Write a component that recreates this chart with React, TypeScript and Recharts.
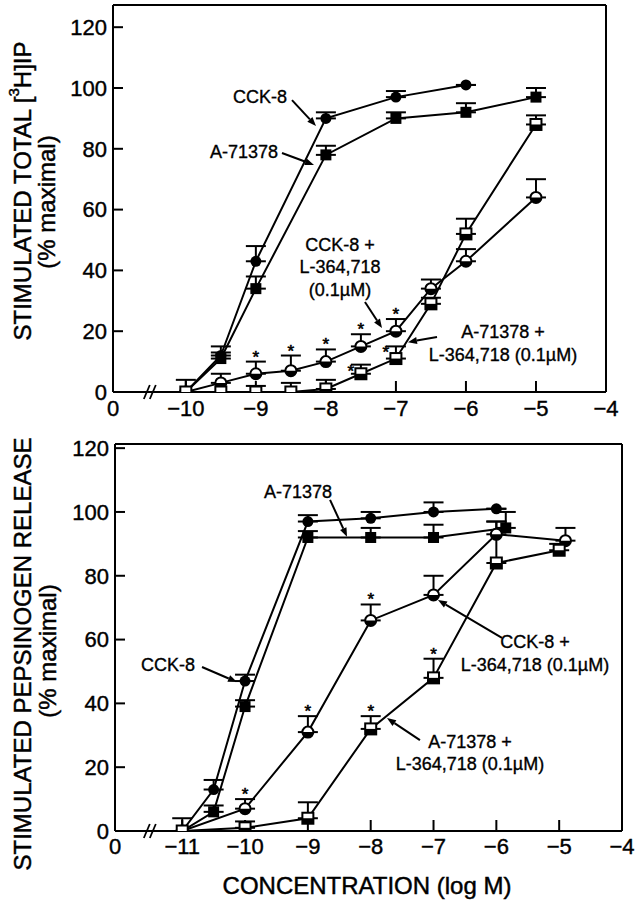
import React from "react";
import { LineChart, Line, XAxis, YAxis, ErrorBar } from "recharts";

const FONT = '"Liberation Sans", Arial, Helvetica, sans-serif';

// ---- top panel: stimulated total [3H]IP ----
const topCckX = [-10, -9.5, -9, -8, -7, -6];
const topCckY = [0, 12, 43, 90, 97, 101];
const topCckErr = [0, 3, 5, 2, 2, 0];

const topAX = [-10, -9.5, -9, -8, -7, -6, -5];
const topAY = [0, 11, 34, 78, 90, 92, 97];
const topAErr = [0, 2, 4, 3, 2, 3, 3];

const topCckLX = [-10, -9.5, -9, -8.5, -8, -7.5, -7, -6.5, -6, -5];
const topCckLY = [0, 3, 6, 7, 10, 15, 20, 34, 43, 64];
const topCckLErr = [4, 3, 4, 5, 4, 4, 4, 3, 4, 6];
const topCckLStar = [0, 0, 1, 1, 1, 1, 1, 0, 0, 0];

const topALX = [-10, -9.5, -9, -8.5, -8, -7.5, -7, -6.5, -6, -5];
const topALY = [0, 0, 0, 0, 1, 6, 11, 29, 52, 88];
const topALErr = [0, 0, 2, 3, 3, 3, 4, 2, 5, 3];
const topALStar = [0, 0, 0, 0, 0, 2, 2, 0, 0, 0];

// ---- bottom panel: stimulated pepsinogen release ----
const botCckX = [-11, -10.5, -10, -9, -8, -7, -6];
const botCckY = [0, 13, 47, 97, 98, 100, 101];
const botCckErr = [0, 3, 2, 2, 2, 3, 0];

const botAX = [-11, -10.5, -10, -9, -8, -7, -5.85];
const botAY = [0, 6, 39, 92, 92, 92, 95];
const botAErr = [0, 2, 2, 2, 3, 4, 5];

const botCckLX = [-11, -10, -9, -8, -7, -6, -4.9];
const botCckLY = [0, 7, 31, 66, 74, 93, 91];
const botCckLErr = [4, 3, 5, 5, 6, 4, 4];
const botCckLStar = [0, 1, 1, 1, 0, 0, 0];

const botALX = [-11, -10, -9, -8, -7, -6, -5];
const botALY = [0, 1, 4, 32, 48, 84, 88];
const botALErr = [0, 2, 5, 4, 6, 13, 2];
const botALStar = [0, 0, 0, 1, 1, 0, 0];

const yTicks = [0, 20, 40, 60, 80, 100, 120];
const topXTicks = [-10, -9, -8, -7, -6, -5, -4];
const botXTicks = [-11, -10, -9, -8, -7, -6, -5, -4];
const frameTicks = [-10, -9, -8, -7, -6, -5];

type Panel = {
  left: number; right: number; top: number; bottom: number;
  x0: number; x1: number; yMax: number;
  chartTop: number; chartHeight: number;
  topDomain: [number, number];
  tickMargin: number;
};

// plot areas in page pixels
const TOP: Panel = {
  left: 113, right: 606, top: 5, bottom: 392, x0: -11.04, x1: -4, yMax: 127.3,
  chartTop: 0, chartHeight: 430, topDomain: [-11.04, -4], tickMargin: 19,
};
const BOT: Panel = {
  left: 115, right: 622, top: 444, bottom: 831, x0: -12.07, x1: -4, yMax: 121.3,
  chartTop: 430, chartHeight: 470, topDomain: [-11.014, -3.771], tickMargin: 18,
};

const px = (p: Panel, x: number) => p.left + ((x - p.x0) * (p.right - p.left)) / (p.x1 - p.x0);
const py = (p: Panel, y: number) => p.bottom - (y * (p.bottom - p.top)) / p.yMax;

type Pt = { x: number; y: number; e: [number, number]; s: number };
function pts(xs: number[], ys: number[], es: number[], ss?: number[]): Pt[] {
  return xs.map((x, i) => ({ x, y: ys[i], e: [0, es[i]], s: ss ? ss[i] : 0 }));
}

type Kind = "circle" | "square" | "halfCircle" | "halfSquare";

function makeDot(kind: Kind, ppu: number) {
  return (props: any) => {
    const { cx, cy, payload, index } = props;
    if (cx == null || cy == null) return <g key={`n-${index}`} />;
    const r = 5.5;
    let shape: React.ReactNode;
    if (kind === "circle") {
      shape = <circle cx={cx} cy={cy} r={r} fill="#000" />;
    } else if (kind === "square") {
      shape = <rect x={cx - r} y={cy - r} width={2 * r} height={2 * r} fill="#000" />;
    } else if (kind === "halfCircle") {
      shape = (
        <g>
          <circle cx={cx} cy={cy} r={r} fill="#fff" stroke="#000" strokeWidth={2} />
          <path d={`M${cx - r},${cy} A${r},${r} 0 0 0 ${cx + r},${cy} Z`} fill="#000" />
        </g>
      );
    } else {
      shape = (
        <g>
          <rect x={cx - r} y={cy - r} width={2 * r} height={2 * r} fill="#fff" stroke="#000" strokeWidth={2} />
          <rect x={cx - r} y={cy} width={2 * r} height={r} fill="#000" />
        </g>
      );
    }
    const capY = cy - payload.e[1] * ppu;
    let star: React.ReactNode = null;
    if (payload.s === 1) {
      star = (
        <text x={cx} y={capY + 1} textAnchor="middle" fontSize={17} fontFamily={FONT} fill="#000" stroke="#000" strokeWidth={0.6}>*</text>
      );
    } else if (payload.s === 2) {
      star = (
        <text x={cx - 10} y={capY + 12} textAnchor="middle" fontSize={17} fontFamily={FONT} fill="#000" stroke="#000" strokeWidth={0.6}>*</text>
      );
    }
    return (
      <g key={`d-${index}`}>
        {shape}
        {star}
      </g>
    );
  };
}

const axisStroke = { stroke: "#000", strokeWidth: 2 };
const tickFont = { fontSize: 22, fill: "#000", fontFamily: FONT, stroke: "#000", strokeWidth: 0.4 };

function Panel({ p, xTicks, series }: { p: Panel; xTicks: number[]; series: { data: Pt[]; kind: Kind; name: string }[] }) {
  const ppu = (p.bottom - p.top) / p.yMax;
  const fmtX = (v: number) => (Math.abs(v - p.x0) < 1e-6 ? "0" : `\u2212${Math.abs(v)}`);
  return (
    <div style={{ position: "absolute", left: 0, top: p.chartTop }}>
      <LineChart
        width={635}
        height={p.chartHeight}
        margin={{ top: p.top - p.chartTop - 1, right: 635 - p.right - 1, left: 0, bottom: 0 }}
      >
        <XAxis
          xAxisId="b"
          dataKey="x"
          type="number"
          domain={[p.x0, p.x1]}
          allowDataOverflow
          ticks={[p.x0, ...xTicks]}
          interval={0}
          tickFormatter={fmtX}
          height={p.chartTop + p.chartHeight - p.bottom}
          tickSize={-11}
          tickMargin={p.tickMargin}
          axisLine={axisStroke}
          tickLine={axisStroke}
          tick={tickFont}
        />
        <XAxis
          xAxisId="t"
          orientation="top"
          type="number"
          domain={p.topDomain}
          allowDataOverflow
          ticks={frameTicks}
          interval={0}
          height={1}
          tick={false}
          tickSize={-11}
          axisLine={axisStroke}
          tickLine={axisStroke}
        />
        <YAxis
          yAxisId="l"
          type="number"
          domain={[0, p.yMax]}
          allowDataOverflow
          ticks={yTicks}
          interval={0}
          width={p.left}
          tickSize={-10}
          tickMargin={16}
          axisLine={axisStroke}
          tickLine={axisStroke}
          tick={tickFont}
        />
        <YAxis
          yAxisId="r"
          orientation="right"
          type="number"
          domain={[0, p.yMax]}
          allowDataOverflow
          ticks={yTicks}
          interval={0}
          width={1}
          tick={false}
          tickSize={-10}
          axisLine={axisStroke}
          tickLine={axisStroke}
        />
        {series.map((s) => (
          <Line
            key={s.name}
            xAxisId="b"
            yAxisId="l"
            data={s.data}
            dataKey="y"
            stroke="#000"
            strokeWidth={2}
            isAnimationActive={false}
            dot={makeDot(s.kind, ppu)}
            activeDot={false}
          >
            <ErrorBar dataKey="e" direction="y" width={10} stroke="#000" strokeWidth={2} isAnimationActive={false} />
          </Line>
        ))}
      </LineChart>
    </div>
  );
}

type Note = { lines: string[]; at: [number, number]; anchor: "start" | "middle" | "end"; from: [number, number]; to: [number, number] };

const topNotes: Note[] = [
  { lines: ["CCK-8"], at: [-8.555, 97], anchor: "end", from: [-8.484, 96.0], to: [-8.141, 87.5] },
  { lines: ["A-71378"], at: [-8.684, 78.9], anchor: "end", from: [-8.627, 78.6], to: [-8.17, 74.7] },
  { lines: ["CCK-8 +", "L-364,718", "(0.1\u00b5M)"], at: [-7.799, 48.4], anchor: "middle", from: [-7.442, 29.6], to: [-7.199, 21.05] },
  { lines: ["A-71378 +", "L-364,718 (0.1\u00b5M)"], at: [-5.471, 19.7], anchor: "middle", from: [-6.413, 18.1], to: [-6.828, 16.4] },
];
const botNotes: Note[] = [
  { lines: ["A-71378"], at: [-9.157, 106.3], anchor: "middle", from: [-8.647, 103.8], to: [-8.377, 92.2] },
  { lines: ["CCK-8"], at: [-10.797, 52], anchor: "end", from: [-10.685, 51.4], to: [-10.128, 46.7] },
  { lines: ["CCK-8 +", "L-364,718 (0.1\u00b5M)"], at: [-5.385, 59.2], anchor: "middle", from: [-5.911, 60.5], to: [-6.929, 72.4] },
  { lines: ["A-71378 +", "L-364,718 (0.1\u00b5M)"], at: [-6.42, 27.9], anchor: "middle", from: [-7.216, 28.5], to: [-7.741, 35.4] },
];

function Arrow({ x1, y1, x2, y2 }: { x1: number; y1: number; x2: number; y2: number }) {
  const a = Math.atan2(y2 - y1, x2 - x1);
  const L = 9, W = 3.5;
  const bx = x2 - L * Math.cos(a), by = y2 - L * Math.sin(a);
  const nx = -Math.sin(a) * W, ny = Math.cos(a) * W;
  return (
    <g>
      <line x1={x1} y1={y1} x2={bx} y2={by} stroke="#000" strokeWidth={2} />
      <polygon points={`${x2},${y2} ${bx + nx},${by + ny} ${bx - nx},${by - ny}`} fill="#000" />
    </g>
  );
}

function Notes({ p, notes }: { p: Panel; notes: Note[] }) {
  return (
    <g>
      {notes.map((n, i) => (
        <g key={i}>
          <text
            x={px(p, n.at[0])}
            y={py(p, n.at[1])}
            textAnchor={n.anchor}
            dominantBaseline="central"
            fontSize={18}
            fontFamily={FONT}
            fill="#000"
            stroke="#000"
            strokeWidth={0.35}
          >
            {n.lines.map((l, j) => (
              <tspan key={j} x={px(p, n.at[0])} dy={j === 0 ? 0 : 22.5}>
                {l}
              </tspan>
            ))}
          </text>
          <Arrow x1={px(p, n.from[0])} y1={py(p, n.from[1])} x2={px(p, n.to[0])} y2={py(p, n.to[1])} />
        </g>
      ))}
    </g>
  );
}

function Break({ p, x }: { p: Panel; x: number }) {
  const cx = px(p, x);
  const cy = p.bottom;
  return (
    <g stroke="#000" strokeWidth={1.8}>
      <line x1={cx - 7} y1={cy + 7} x2={cx - 1} y2={cy - 7} />
      <line x1={cx - 1} y1={cy + 7} x2={cx + 5} y2={cy - 7} />
    </g>
  );
}

export default function App() {
  const topSeries = [
    { name: "cck", kind: "circle" as Kind, data: pts(topCckX, topCckY, topCckErr) },
    { name: "a", kind: "square" as Kind, data: pts(topAX, topAY, topAErr) },
    { name: "cckL", kind: "halfCircle" as Kind, data: pts(topCckLX, topCckLY, topCckLErr, topCckLStar) },
    { name: "aL", kind: "halfSquare" as Kind, data: pts(topALX, topALY, topALErr, topALStar) },
  ];
  const botSeries = [
    { name: "cck", kind: "circle" as Kind, data: pts(botCckX, botCckY, botCckErr) },
    { name: "a", kind: "square" as Kind, data: pts(botAX, botAY, botAErr) },
    { name: "cckL", kind: "halfCircle" as Kind, data: pts(botCckLX, botCckLY, botCckLErr, botCckLStar) },
    { name: "aL", kind: "halfSquare" as Kind, data: pts(botALX, botALY, botALErr, botALStar) },
  ];
  return (
    <div style={{ position: "absolute", left: 0, top: 0, width: 635, height: 900, background: "#fff", overflow: "hidden" }}>
      <Panel p={TOP} xTicks={topXTicks} series={topSeries} />
      <Panel p={BOT} xTicks={botXTicks} series={botSeries} />
      <svg width={635} height={900} style={{ position: "absolute", left: 0, top: 0, pointerEvents: "none" }}>
        <g fontFamily={FONT} fill="#000" stroke="#000" strokeWidth={0.45}>
          <text transform="translate(22,191) rotate(-90)" textAnchor="middle" dominantBaseline="central" fontSize={24}>
            STIMULATED TOTAL [<tspan dy={-9} fontSize={15}>3</tspan>
            <tspan dy={9}>H]IP</tspan>
          </text>
          <text transform="translate(46,202) rotate(-90)" textAnchor="middle" dominantBaseline="central" fontSize={24}>
            (% maximal)
          </text>
          <text transform="translate(22,654) rotate(-90)" textAnchor="middle" dominantBaseline="central" fontSize={24}>
            STIMULATED PEPSINOGEN RELEASE
          </text>
          <text transform="translate(47,651) rotate(-90)" textAnchor="middle" dominantBaseline="central" fontSize={24}>
            (% maximal)
          </text>
          <text x={367} y={885} textAnchor="middle" dominantBaseline="central" fontSize={24}>
            CONCENTRATION (log M)
          </text>
        </g>
        <Notes p={TOP} notes={topNotes} />
        <Notes p={BOT} notes={botNotes} />
        <Break p={TOP} x={-10.5} />
        <Break p={BOT} x={-11.5} />
      </svg>
    </div>
  );
}
